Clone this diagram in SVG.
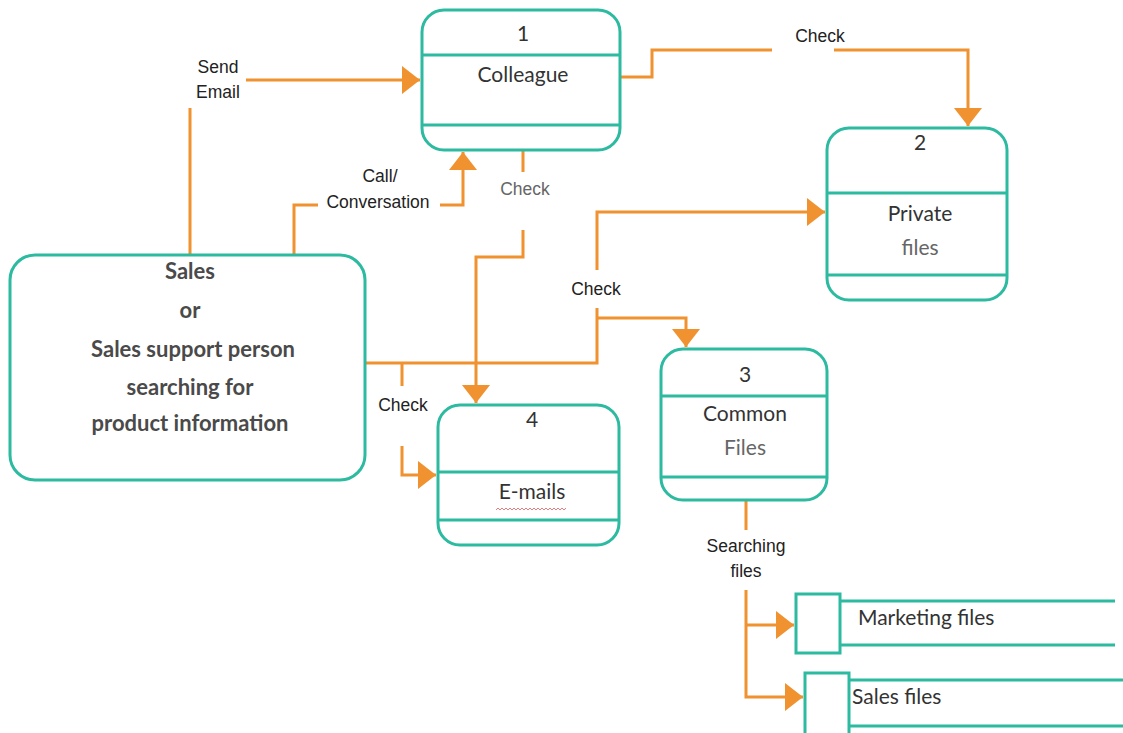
<svg xmlns="http://www.w3.org/2000/svg" width="1123" height="733" viewBox="0 0 1123 733">
<style>
.box{fill:#fff;stroke:#2cbaa0;stroke-width:3}
.div{stroke:#2cbaa0;stroke-width:3;fill:none}
.con{fill:none;stroke:#ef922f;stroke-width:3}
.nt{font-family:Lato,"Liberation Sans",sans-serif;font-size:21px;fill:#333;text-anchor:middle}
.ng{font-family:Lato,"Liberation Sans",sans-serif;font-size:21px;fill:#666;text-anchor:middle}
.st{font-family:Lato,"Liberation Sans",sans-serif;font-size:22px;font-weight:bold;fill:#4a4a4a;text-anchor:middle}
.lb{font-family:"Liberation Sans",Arial,sans-serif;font-size:17.5px;fill:#222;text-anchor:middle}
.lbg{font-family:"Liberation Sans",Arial,sans-serif;font-size:17.5px;fill:#666;text-anchor:middle}
.bg{fill:#fff}
</style>
<defs>
<marker id="arr" markerUnits="userSpaceOnUse" markerWidth="20" markerHeight="28" refX="18" refY="14" orient="auto">
<path d="M0,0 L18,14 L0,28 Z" fill="#ef922f"/>
</marker>
</defs>
<rect width="1123" height="733" fill="#fff"/>
<g id="connectors">
<path class="con" d="M190,255 V80 H420" marker-end="url(#arr)"/>
<path class="con" d="M294,255 V205 H463 V152" marker-end="url(#arr)"/>
<path class="con" d="M523,150 V257 H476 V403" marker-end="url(#arr)"/>
<path class="con" d="M620,77 H652 V50 H968 V126" marker-end="url(#arr)"/>
<path class="con" d="M365,363 H597 V212 H825" marker-end="url(#arr)"/>
<path class="con" d="M597,318 H686 V347" marker-end="url(#arr)"/>
<path class="con" d="M402,363 V475 H436" marker-end="url(#arr)"/>
<path class="con" d="M746,500 V697 H803" marker-end="url(#arr)"/>
<path class="con" d="M746,625 H794" marker-end="url(#arr)"/>
<rect class="bg" x="188" y="56" width="58" height="52"/>
<text class="lb" x="218" y="73">Send</text>
<text class="lb" x="218" y="98">Email</text>
<rect class="bg" x="318" y="164" width="122" height="50"/>
<text class="lb" x="380" y="182">Call/</text>
<text class="lb" x="378" y="208">Conversation</text>
<rect class="bg" x="493" y="172" width="62" height="58"/>
<text class="lbg" x="525" y="195">Check</text>
<rect class="bg" x="772" y="26" width="62" height="30"/>
<text class="lb" x="820" y="42">Check</text>
<rect class="bg" x="563" y="270" width="66" height="38"/>
<text class="lb" x="596" y="295">Check</text>
<rect class="bg" x="371" y="386" width="64" height="60"/>
<text class="lb" x="403" y="411">Check</text>
<rect class="bg" x="698" y="530" width="96" height="60"/>
<text class="lb" x="746" y="552">Searching</text>
<text class="lb" x="746" y="577">files</text>
</g>
<g id="node-sales">
<rect class="box" x="10" y="255" width="355" height="225" rx="25"/>
<text class="st" x="190" y="279">Sales</text>
<text class="st" x="190" y="318">or</text>
<text class="st" x="193" y="357">Sales support person</text>
<text class="st" x="190" y="395">searching for</text>
<text class="st" x="190" y="431">product information</text>
</g>
<g id="node-1">
<rect class="box" x="422" y="10" width="198" height="140" rx="22"/>
<path class="div" d="M422,55 H620 M422,125 H620"/>
<text class="nt" x="523" y="41">1</text>
<text class="nt" x="523" y="82">Colleague</text>
</g>
<g id="node-2">
<rect class="box" x="827" y="128" width="180" height="172" rx="22"/>
<path class="div" d="M827,193 H1007 M827,275 H1007"/>
<text class="nt" x="920" y="150">2</text>
<text class="nt" x="920" y="221">Private</text>
<text class="ng" x="920" y="255">files</text>
</g>
<g id="node-3">
<rect class="box" x="661" y="349" width="166" height="151" rx="22"/>
<path class="div" d="M661,396 H827 M661,477 H827"/>
<text class="nt" x="745" y="382">3</text>
<text class="nt" x="745" y="421">Common</text>
<text class="ng" x="745" y="455">Files</text>
</g>
<g id="node-4">
<rect class="box" x="438" y="405" width="181" height="140" rx="22"/>
<path class="div" d="M438,472 H619 M438,520 H619"/>
<text class="nt" x="532" y="427">4</text>
<text class="nt" x="532" y="499">E-mails</text>
<path d="M496,510 l2,-2 l2,2 l2,-2 l2,2 l2,-2 l2,2 l2,-2 l2,2 l2,-2 l2,2 l2,-2 l2,2 l2,-2 l2,2 l2,-2 l2,2 l2,-2 l2,2 l2,-2 l2,2 l2,-2 l2,2 l2,-2 l2,2 l2,-2 l2,2 l2,-2 l2,2 l2,-2 l2,2 l2,-2 l2,2 l2,-2 l2,2 l2,-2" fill="none" stroke="#e08080" stroke-width="1"/>
</g>
<g id="store-marketing">
<rect class="box" x="796" y="594" width="44" height="59"/>
<path class="div" d="M840,601 H1115 M840,645 H1115"/>
<text class="nt" x="858" y="625" style="text-anchor:start">Marketing files</text>
</g>
<g id="store-sales">
<rect class="box" x="805" y="673" width="44" height="62"/>
<path class="div" d="M849,680 H1123 M849,726 H1123"/>
<text class="nt" x="852" y="704" style="text-anchor:start">Sales files</text>
</g>
</svg>
